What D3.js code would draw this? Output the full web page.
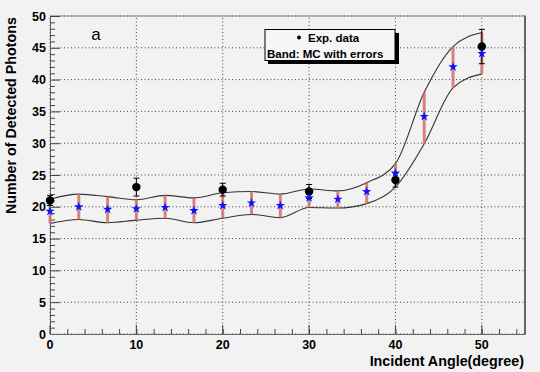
<!DOCTYPE html>
<html>
<head>
<meta charset="utf-8">
<script src="https://cdn.jsdelivr.net/npm/d3@7"></script>
<style>
  body { margin: 0; background: #f2f2f2; }
  svg { display: block; font-family: "Liberation Sans", Arial, sans-serif; }
</style>
</head>
<body>
<svg id="chart" width="540" height="372"></svg>
<script>
// --- Data ---
const mcAngles = [0, 3.33, 6.67, 10, 13.33, 16.67, 20, 23.33, 26.67, 30, 33.33, 36.67, 40, 43.33, 46.67, 50];
const mcValues = [19.3, 20.0, 19.6, 19.7, 19.9, 19.4, 20.2, 20.6, 20.2, 21.4, 21.2, 22.4, 25.3, 34.2, 42.0, 44.1];
const mcHigh   = [21.2, 22.0, 21.6, 21.1, 21.8, 21.4, 22.2, 22.4, 22.0, 22.8, 22.5, 23.8, 26.8, 38.0, 45.2, 47.4];
const mcLow    = [17.4, 18.0, 17.5, 17.9, 18.2, 17.5, 18.2, 18.8, 18.3, 19.9, 19.8, 20.5, 23.1, 29.9, 38.7, 40.9];

const expAngles = [0, 10, 20, 30, 40, 50];
const expValues = [21.0, 23.1, 22.7, 22.4, 24.2, 45.2];
const expErrors = [0.8, 1.4, 1.0, 1.1, 1.1, 2.7];

const xTicks = [0, 10, 20, 30, 40, 50];
const yTicks = [0, 5, 10, 15, 20, 25, 30, 35, 40, 45, 50];

const svg = d3.select("#chart");
const margin = { left: 50, right: 15, top: 16, bottom: 38 };
const W = 540, H = 372;

const x = d3.scaleLinear().domain([0, 55]).range([margin.left, W - margin.right]);
const y = d3.scaleLinear().domain([0, 50]).range([H - margin.bottom, margin.top]);

// --- Grid ---
const grid = svg.append("g");
grid.selectAll(".gx").data(xTicks).enter().append("line")
  .attr("x1", d => x(d)).attr("x2", d => x(d))
  .attr("y1", y(0)).attr("y2", y(50))
  .attr("stroke", "#444").attr("stroke-dasharray", "1,2.5");
grid.selectAll(".gy").data(yTicks).enter().append("line")
  .attr("x1", x(0)).attr("x2", x(55))
  .attr("y1", d => y(d)).attr("y2", d => y(d))
  .attr("stroke", "#444").attr("stroke-dasharray", "1,2.5");

// --- Frame ---
svg.append("line").attr("x1", x(0)).attr("x2", x(55)).attr("y1", y(50)).attr("y2", y(50))
  .attr("stroke", "#888");
svg.append("line").attr("x1", x(55)).attr("x2", x(55)).attr("y1", y(50) - 0.5).attr("y2", y(0))
  .attr("stroke", "#666").attr("stroke-width", 2);

// --- Axes (ROOT style: ticks inside) ---
const yAxis = d3.axisRight(y).tickValues(d3.range(0, 51, 1)).tickSize(5).tickFormat("");
svg.append("g").attr("transform", `translate(${x(0)},0)`).call(yAxis)
  .call(g => g.select(".domain").attr("stroke", "#666"))
  .call(g => g.selectAll(".tick line").attr("stroke", "#444")
    .attr("x2", d => d % 5 === 0 ? 10 : 5));

const xAxis = d3.axisTop(x).tickValues(d3.range(0, 55, 2)).tickSize(5).tickFormat("");
svg.append("g").attr("transform", `translate(0,${y(0)})`).call(xAxis)
  .call(g => g.select(".domain").attr("stroke", "#666"))
  .call(g => g.selectAll(".tick line").attr("stroke", "#444"));
svg.append("g").selectAll("line").data(xTicks).enter().append("line")
  .attr("x1", d => x(d)).attr("x2", d => x(d))
  .attr("y1", y(0)).attr("y2", y(0) - 9).attr("stroke", "#444");

// tick labels
svg.append("g").selectAll("text").data(yTicks).enter().append("text")
  .attr("x", x(0) - 4).attr("y", d => y(d) + 4.5)
  .attr("text-anchor", "end").attr("font-size", 12.5).attr("font-weight", "bold")
  .text(d => d);
svg.append("g").selectAll("text").data(xTicks).enter().append("text")
  .attr("x", d => x(d)).attr("y", y(0) + 15)
  .attr("text-anchor", "middle").attr("font-size", 12.5).attr("font-weight", "bold")
  .text(d => d);

// axis titles
svg.append("text").attr("x", x(55) - 1).attr("y", 366)
  .attr("text-anchor", "end").attr("font-size", 14.3).attr("font-weight", "bold")
  .text("Incident Angle(degree)");
svg.append("text")
  .attr("transform", `translate(16,${margin.top + 1}) rotate(-90)`)
  .attr("text-anchor", "end").attr("font-size", 14.3).attr("font-weight", "bold")
  .text("Number of Detected Photons");

// --- MC band ---
const band = d3.line().x(d => x(d[0])).y(d => y(d[1])).curve(d3.curveMonotoneX);
[mcHigh, mcLow].forEach(arr => {
  svg.append("path")
    .datum(mcAngles.map((a, i) => [a, arr[i]]))
    .attr("d", band).attr("fill", "none").attr("stroke", "#333").attr("stroke-width", 1.1);
});

// MC error bars
svg.append("g").selectAll("line").data(mcAngles).enter().append("line")
  .attr("x1", d => x(d)).attr("x2", d => x(d))
  .attr("y1", (d, i) => y(mcHigh[i])).attr("y2", (d, i) => y(mcLow[i]))
  .attr("stroke", "#d46e6e").attr("stroke-width", 3).attr("opacity", 0.85);

// --- Exp data ---
const expG = svg.append("g");
expAngles.forEach((a, i) => {
  const top = y(expValues[i] + expErrors[i]), bot = y(expValues[i] - expErrors[i]);
  expG.append("line").attr("x1", x(a)).attr("x2", x(a)).attr("y1", top).attr("y2", bot)
    .attr("stroke", "#000");
  [top, bot].forEach(v => expG.append("line")
    .attr("x1", x(a) - 3).attr("x2", x(a) + 3).attr("y1", v).attr("y2", v).attr("stroke", "#000"));
});
expG.selectAll("circle").data(expAngles).enter().append("circle")
  .attr("cx", d => x(d)).attr("cy", (d, i) => y(expValues[i])).attr("r", 4.2)
  .attr("fill", "#000");

// MC points (blue stars)
svg.append("g").selectAll("path").data(mcAngles).enter().append("path")
  .attr("d", d3.symbol().type(d3.symbolStar).size(28))
  .attr("transform", (d, i) => `translate(${x(d)},${y(mcValues[i])})`)
  .attr("fill", "#0a14ff");

// --- Label "a" ---
svg.append("text").attr("x", 96).attr("y", 40).attr("text-anchor", "middle")
  .attr("font-size", 17).text("a");

// --- Legend ---
const lg = svg.append("g");
lg.append("rect").attr("x", 268).attr("y", 33).attr("width", 131).attr("height", 31).attr("fill", "#000");
lg.append("rect").attr("x", 265).attr("y", 29.5).attr("width", 130).attr("height", 31)
  .attr("fill", "#f6f6f6").attr("stroke", "#000").attr("stroke-width", 1);
lg.append("circle").attr("cx", 299).attr("cy", 37.5).attr("r", 2).attr("fill", "#000");
lg.append("text").attr("x", 308).attr("y", 41.5).attr("font-size", 11.5).attr("font-weight", "bold")
  .text("Exp. data");
lg.append("text").attr("x", 267).attr("y", 57.5).attr("font-size", 11.5).attr("font-weight", "bold")
  .text("Band: MC with errors");
</script>
</body>
</html>
